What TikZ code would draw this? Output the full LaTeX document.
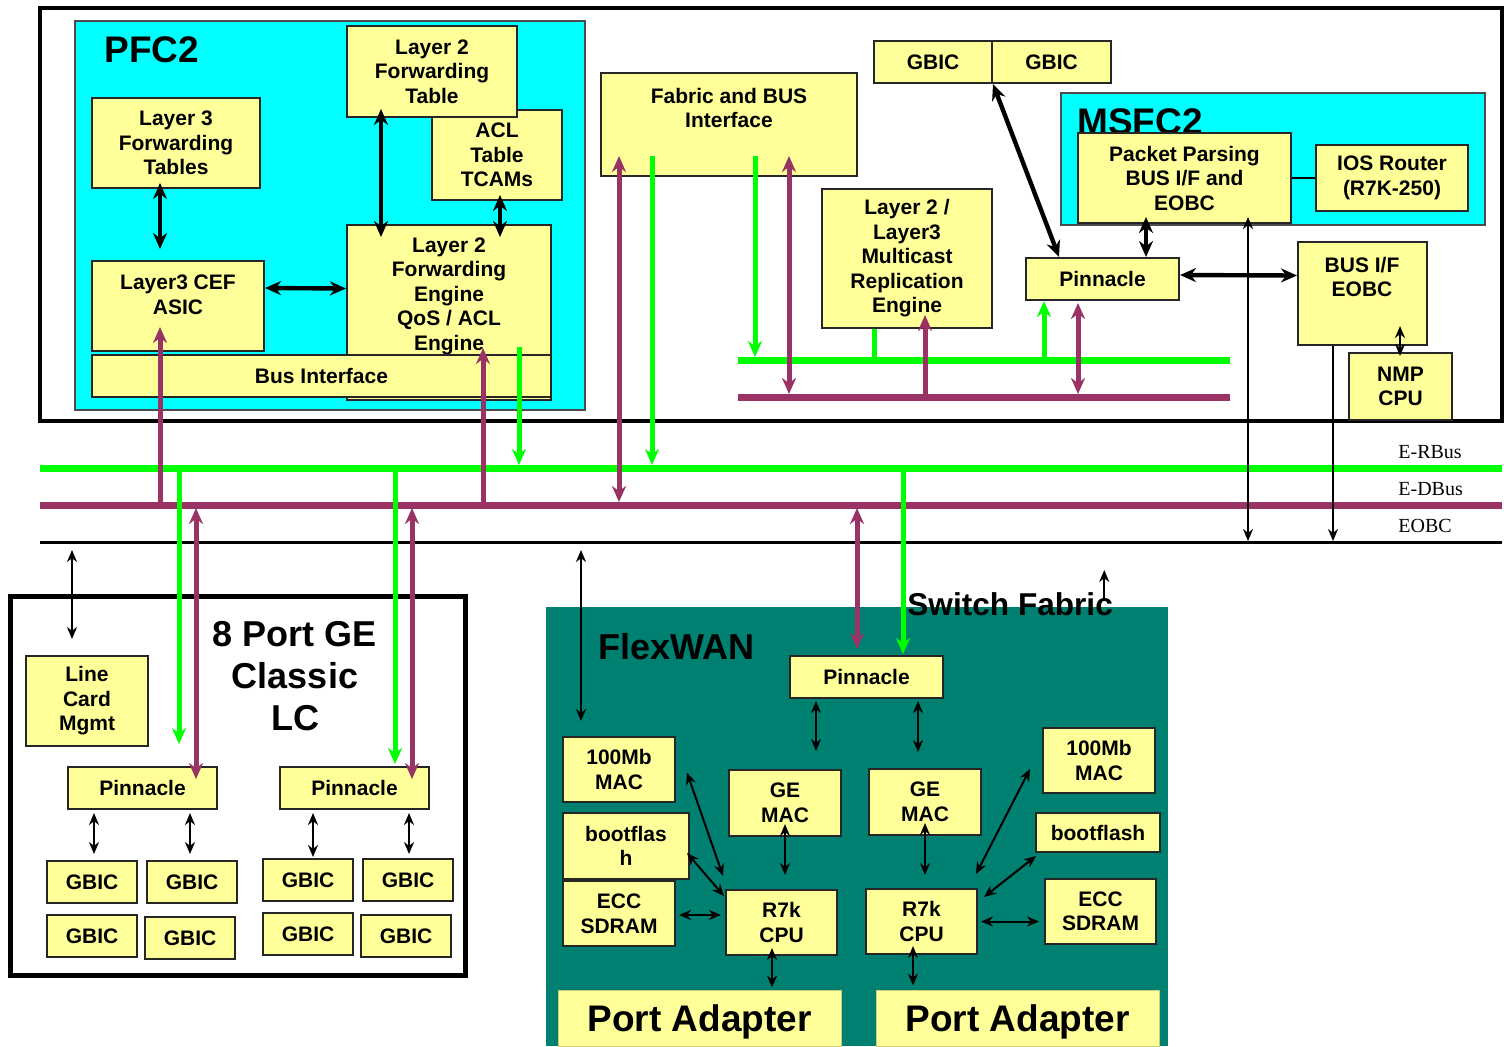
\documentclass[tikz,border=0pt]{standalone}
\usepackage{fontspec}
\setmainfont{Liberation Sans}
\newfontfamily\serifont{Liberation Serif}
\usetikzlibrary{arrows.meta,calc}
\definecolor{ylw}{HTML}{FFFF99}
\definecolor{cyn}{HTML}{00FFFF}
\definecolor{grn}{HTML}{00FF00}
\definecolor{pur}{HTML}{993366}
\definecolor{tealc}{HTML}{008070}
\newcommand\bxf{\fontsize{10.5}{12.25}\selectfont\bfseries}
\newcommand\bigf{\fontsize{18}{21}\selectfont\bfseries}
\newcommand\mk[7]{\node[#1,minimum width={(#5-#3)*0.5pt},minimum height={(#6-#4)*0.5pt}] (#2) at ({(#3+#5)/2},{(#4+#6)/2}) {#7};}
\begin{document}
\begin{tikzpicture}[x=0.5pt,y=-0.5pt,
  ybox/.style={draw=black!85,line width=1pt,fill=ylw,inner sep=0pt,align=center,font=\bxf},
  pabox/.style={draw=ylw!80!black,line width=0.5pt,fill=ylw,inner sep=0pt,align=center,text height=17pt,font={\fontsize{18.5}{21}\selectfont\bfseries}},
  txt/.style={inner sep=0pt,align=center,font=\bxf},
  cont/.style={draw=black,line width=2pt,fill=white,inner sep=0pt},
  cont2/.style={draw=black,line width=2.5pt,fill=white,inner sep=0pt},
  cyanbox/.style={draw=black!70,line width=1pt,fill=cyn,inner sep=0pt},
  tealbox/.style={fill=tealc,inner sep=0pt},
  title/.style={inner sep=0pt,font={\fontsize{18.5}{21}\selectfont\bfseries}},
  bigt/.style={inner sep=0pt,align=center,font=\bigf},
  sftxt/.style={inner sep=0pt,font={\fontsize{15.8}{18}\selectfont\bfseries}},
  buslbl/.style={inner sep=0pt,font={\serifont\fontsize{10}{12}\selectfont}},
  thk/.style={line width=2.2pt,>={Stealth[length=8pt,width=7pt]}},
  thn/.style={line width=1pt,>={Stealth[length=6pt,width=5pt]}},
  parr/.style={draw=pur,line width=2.5pt,>={Stealth[length=8pt,width=7pt]}},
  garr/.style={draw=grn,line width=2.5pt,>={Stealth[length=8pt,width=7pt]}},
  gbus/.style={draw=grn,line width=3.5pt},
  pbus/.style={draw=pur,line width=3.5pt},
  ebus/.style={draw=black,line width=1.5pt}]
\useasboundingbox (0,0) rectangle (1504,1046);
% ---------- supervisor ----------
\mk{cont}{sup}{40}{8}{1502}{421}{}
\mk{cyanbox}{pfc}{75}{21}{585}{410}{}
\node[title,anchor=west] (pfct) at (104,50) {PFC2};
\mk{ybox}{acl}{432}{110}{562}{200}{ACL\\Table\\TCAMs}
\mk{ybox}{l2ft}{347}{26}{517}{117}{Layer 2\\Forwarding\\Table}
\mk{ybox}{l3ft}{92}{98}{260}{188}{Layer 3\\Forwarding\\Tables}
\mk{ybox}{l3cef}{92}{261}{264}{351}{}
\node[txt] (l3ceft) at (178,295) {Layer3 CEF\\ASIC};
\mk{ybox}{l2fe}{347}{225}{551}{400}{}
\node[txt] (l2fet) at (449,296) {Layer 2\\Forwarding\\Engine\\QoS / ACL\\Engine};
\mk{ybox}{businf}{92}{355}{551}{397}{Bus Interface}
\mk{ybox}{fab}{601}{73}{857}{176}{}
\node[txt] (fabt) at (729,108) {Fabric and BUS\\Interface};
\mk{ybox}{mre}{822}{189}{992}{328}{Layer 2 /\\Layer3\\Multicast\\Replication\\Engine}
\mk{ybox}{gb1}{874}{41}{992}{83}{GBIC}
\mk{ybox}{gb2}{992}{41}{1111}{83}{GBIC}
\mk{cyanbox}{msfc}{1061}{93}{1485}{225}{}
\node[title,anchor=base west] (msfct) at (1077,134) {MSFC2};
\mk{ybox}{pp}{1078}{133}{1291}{223}{Packet Parsing\\BUS I/F and\\EOBC}
\mk{ybox}{ios}{1316}{145}{1468}{211}{IOS Router\\(R7K-250)}
\draw[line width=1.2pt] (pp.east) -- (ios.west);
\mk{ybox}{pinT}{1026}{258}{1179}{300}{Pinnacle}
\mk{ybox}{busif}{1298}{242}{1427}{345}{}
\node[txt] (busift) at (1362,277) {BUS I/F\\EOBC};
\mk{ybox}{nmp}{1349}{353}{1452}{420}{NMP\\CPU}
% inner buses
\coordinate (gbL) at (738,360); \coordinate (gbR) at (1230,360);
\coordinate (pbL) at (738,397); \coordinate (pbR) at (1230,397);
\draw[gbus] (gbL) -- (gbR);
\draw[pbus] (pbL) -- (pbR);
% main buses
\coordinate (RbL) at (40,468); \coordinate (RbR) at (1502,468);
\coordinate (DbL) at (40,505); \coordinate (DbR) at (1502,505);
\coordinate (EbL) at (40,542); \coordinate (EbR) at (1502,542);
\draw[gbus] (RbL) -- (RbR);
\draw[pbus] (DbL) -- (DbR);
\draw[ebus] (EbL) -- (EbR);
\node[buslbl,anchor=west] (lblR) at (1398,452) {E-RBus};
\node[buslbl,anchor=west] (lblD) at (1398,489) {E-DBus};
\node[buslbl,anchor=west] (lblE) at (1398,526) {EOBC};
% ---------- line card ----------
\mk{cont2}{lc}{10}{596}{465}{975}{}
\node[bigt] (lct) at (295,676) {8 Port GE\\Classic\\LC};
\mk{ybox}{lcm}{26}{656}{148}{746}{Line\\Card\\Mgmt}
\mk{ybox}{pin1}{68}{767}{217}{809}{Pinnacle}
\mk{ybox}{pin2}{280}{767}{429}{809}{Pinnacle}
\mk{ybox}{g11}{47}{861}{137}{903}{GBIC}
\mk{ybox}{g12}{147}{861}{237}{903}{GBIC}
\mk{ybox}{g13}{263}{859}{353}{901}{GBIC}
\mk{ybox}{g14}{363}{859}{453}{901}{GBIC}
\mk{ybox}{g21}{47}{915}{137}{957}{GBIC}
\mk{ybox}{g22}{145}{917}{235}{959}{GBIC}
\mk{ybox}{g23}{263}{913}{353}{955}{GBIC}
\mk{ybox}{g24}{361}{915}{451}{957}{GBIC}
% ---------- FlexWAN ----------
\mk{tealbox}{flex}{546}{607}{1168}{1046}{}
\node[bigt,anchor=west] (flext) at (598,647) {FlexWAN};
\node[sftxt,anchor=base west] (sft) at (907,615) {Switch Fabric};
\mk{ybox}{pinF}{790}{656}{943}{698}{Pinnacle}
\mk{ybox}{ge1}{729}{770}{841}{836}{GE\\MAC}
\mk{ybox}{ge2}{869}{769}{981}{835}{GE\\MAC}
\mk{ybox}{macL}{563}{737}{675}{802}{100Mb\\MAC}
\mk{ybox}{bootL}{563}{813}{689}{879}{bootflas\\h}
\mk{ybox}{eccL}{563}{881}{675}{946}{ECC\\SDRAM}
\mk{ybox}{cpuL}{726}{890}{837}{955}{R7k\\CPU}
\mk{ybox}{cpuR}{866}{889}{977}{954}{R7k\\CPU}
\mk{ybox}{macR}{1043}{728}{1155}{793}{100Mb\\MAC}
\mk{ybox}{bootR}{1036}{813}{1160}{852}{bootflash}
\mk{ybox}{eccR}{1045}{879}{1156}{944}{ECC\\SDRAM}
\mk{pabox}{paL}{558}{990}{841}{1046}{Port Adapter}
\mk{pabox}{paR}{876}{990}{1159}{1046}{Port Adapter}
% ---------- connectors: PFC2 ----------
\draw[thk,<->,shorten <=-3pt,shorten >=5.5pt] (160,0 |- l3ft.south) -- (160,0 |- l3cef.north);
\draw[thk,<->] ($(l3cef.east)+(0,-18)$) -- ($(l2fe.west)+(0,-24)$);
\draw[thk,<->,shorten <=-4.5pt,shorten >=-6.5pt] (381,0 |- l2ft.south) -- (381,0 |- l2fe.north);
\draw[thk,<->,shorten <=-3pt,shorten >=-6.5pt] (500,0 |- acl.south) -- (500,0 |- l2fe.north);
\draw[parr,->,shorten >=-12.5pt] (160,0 |- DbL) -- (160,0 |- l3cef.south);
\draw[parr,->,shorten >=-3pt] (483,0 |- DbL) -- (483,0 |- businf.north);
\draw[garr,->,shorten <=-3.5pt,shorten >=1.5pt] (519,0 |- businf.north) -- (519,0 |- RbL);
% fabric
\draw[parr,<->,shorten <=-10.5pt,shorten >=1.5pt] (619,0 |- fab.south) -- (619,0 |- DbL);
\draw[garr,->,shorten <=-10.5pt,shorten >=1.5pt] (652,0 |- fab.south) -- (652,0 |- RbL);
\draw[garr,->,shorten <=-10.5pt,shorten >=1.5pt] (755,0 |- fab.south) -- (755,0 |- gbL);
\draw[parr,<->,shorten <=-10.5pt,shorten >=1.5pt] (789,0 |- fab.south) -- (789,0 |- pbL);
% multicast
\draw[garr] (874,0 |- mre.south) -- (874,0 |- gbL);
\draw[parr,->,shorten >=-7pt] (925,0 |- pbL) -- (925,0 |- mre.south);
% pinnacle / MSFC2
\draw[garr,->] (1044,0 |- gbL) -- (1044,0 |- pinT.south);
\draw[parr,<->,shorten <=1pt,shorten >=1.5pt] (1078,0 |- pinT.south) -- (1078,0 |- pbL);
\draw[thk,<->] (gb1.south east) -- ($(pinT.north west)+(34,0)$);
\draw[thk,<->,shorten <=-3.5pt] (1146,0 |- pp.south) -- (1146,0 |- pinT.north);
\draw[thk,<->] ($(pinT.east)+(0,-4)$) -- ($(busif.west)+(0,-18)$);
\draw[thn,<->,shorten <=-10pt,shorten >=-2pt] (1400,0 |- busif.south) -- (1400,0 |- nmp.north);
\draw[thn,<->,shorten <=-3.5pt,shorten >=0.5pt] (1248,0 |- pp.south) -- (1248,0 |- EbL);
\draw[thn,->,shorten >=0.5pt] (1333,0 |- busif.south) -- (1333,0 |- EbL);
% ---------- connectors: line card ----------
\draw[thn,<->,shorten <=4pt,shorten >=8pt] (72,0 |- EbL) -- (72,0 |- lcm.north);
\draw[garr,->,shorten >=11pt] (179,0 |- RbL) -- (179,0 |- pin1.north);
\draw[parr,<->,shorten <=1.5pt,shorten >=-6.5pt] (196,0 |- DbL) -- (196,0 |- pin1.north);
\draw[garr,->,shorten >=1pt] (395,0 |- RbL) -- (395,0 |- pin2.north);
\draw[parr,<->,shorten <=1.5pt,shorten >=-6.5pt] (412,0 |- DbL) -- (412,0 |- pin2.north);
\draw[thn,<->,shorten <=1.5pt,shorten >=3pt] (94,0 |- pin1.south) -- (94,0 |- g11.north);
\draw[thn,<->,shorten <=1.5pt,shorten >=3pt] (190,0 |- pin1.south) -- (190,0 |- g12.north);
\draw[thn,<->,shorten <=1.5pt,shorten >=0.5pt] (313,0 |- pin2.south) -- (313,0 |- g13.north);
\draw[thn,<->,shorten <=1.5pt,shorten >=2pt] (409,0 |- pin2.south) -- (409,0 |- g14.north);
% ---------- connectors: FlexWAN ----------
\draw[thn,<->,shorten <=4pt,shorten >=7.5pt] (581,0 |- EbL) -- (581,0 |- macL.north);
\draw[parr,<->,shorten <=1.5pt,shorten >=3pt] (857,0 |- DbL) -- (857,0 |- pinF.north);
\draw[garr,->,shorten >=0.5pt] (903,0 |- RbL) -- (903,0 |- pinF.north);
\draw[thn,->] ($(sft.base east)+(-9,-15)$) -- ($(sft.base east)+(-9,-45)$);
\draw[thn,<->,shorten <=1pt,shorten >=9pt] (816,0 |- pinF.south) -- (816,0 |- ge1.north);
\draw[thn,<->,shorten <=1pt,shorten >=8pt] (918,0 |- pinF.south) -- (918,0 |- ge2.north);
\draw[thn,<->,shorten <=-6.5pt,shorten >=7pt] (785,0 |- ge1.south) -- (785,0 |- cpuL.north);
\draw[thn,<->,shorten <=-4pt,shorten >=1pt] (772,0 |- cpuL.south) -- (772,0 |- paL.north);
\draw[thn,<->,shorten <=-6.5pt,shorten >=6.5pt] (925,0 |- ge2.south) -- (925,0 |- cpuR.north);
\draw[thn,<->,shorten <=-4.5pt,shorten >=2pt] (913,0 |- cpuR.south) -- (913,0 |- paR.north);
\draw[thn,<->] ($(macL.east)+(11,3)$) -- ($(cpuL.north west)+(-2,-13)$);
\draw[thn,<->] ($(bootL.east)+(-3,7)$) -- ($(cpuL.north west)+(-1,7)$);
\draw[thn,<->] ($(eccL.east)+(3,1.5)$) -- ($(cpuL.west)+(-4,-7.5)$);
\draw[thn,<->] ($(cpuR.east)+(3,0)$) -- ($(eccR.west)+(-5,10)$);
\draw[thn,<->] ($(cpuR.north east)+(6,9)$) -- ($(bootR.south west)+(1,3)$);
\draw[thn,<->] ($(cpuR.north east)+(-2,-14)$) -- ($(macR.west)+(-12,8.5)$);
\end{tikzpicture}
\end{document}
